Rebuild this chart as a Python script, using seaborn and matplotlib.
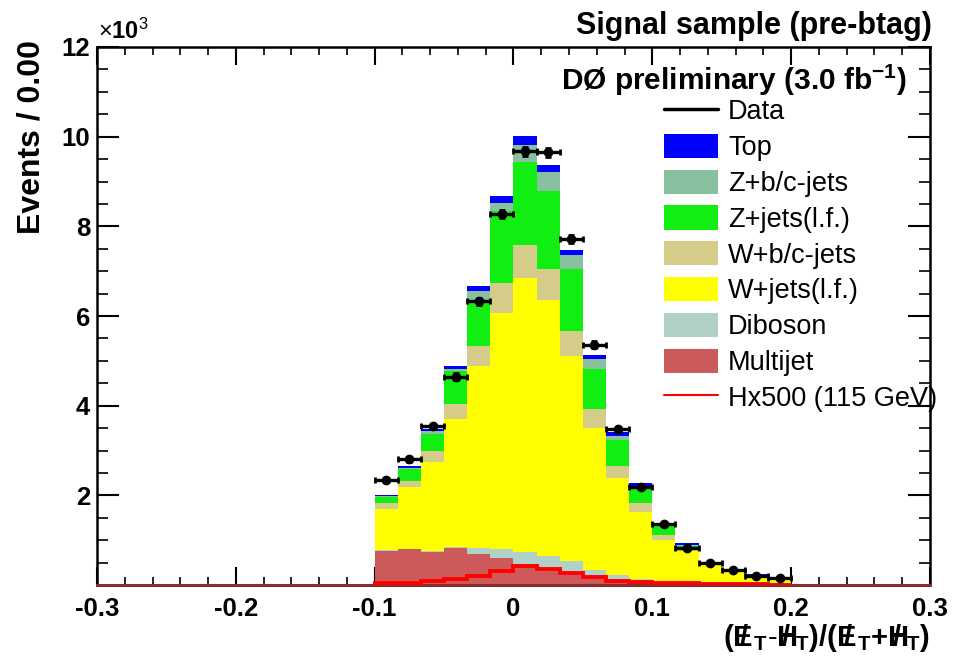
import numpy as np
import pandas as pd
import matplotlib
matplotlib.use("Agg")
import matplotlib.pyplot as plt
from matplotlib.patches import Patch
from matplotlib.lines import Line2D
from matplotlib.ticker import MultipleLocator
import seaborn as sns

# ---------------- data (units of 10^3 events per bin) ----------------
bin_edges = list(np.linspace(-0.1, 0.2, 19))  # 18 bins of width 1/60

multijet = [0.76, 0.80, 0.73, 0.82, 0.69, 0.60, 0.47, 0.38, 0.29, 0.19, 0.08, 0.05, 0.03, 0.02, 0.01, 0.01, 0.00, 0.00]
diboson  = [0.01, 0.01, 0.03, 0.03, 0.13, 0.20, 0.26, 0.26, 0.24, 0.15, 0.14, 0.08, 0.04, 0.02, 0.02, 0.01, 0.01, 0.01]
wjets_lf = [0.93, 1.37, 1.98, 2.85, 4.07, 5.27, 6.11, 5.72, 4.57, 3.16, 2.17, 1.49, 0.94, 0.71, 0.42, 0.28, 0.16, 0.11]
wbc_jets = [0.12, 0.15, 0.24, 0.34, 0.45, 0.66, 0.74, 0.68, 0.57, 0.43, 0.26, 0.20, 0.11, 0.03, 0.02, 0.01, 0.02, 0.01]
zjets_lf = [0.15, 0.25, 0.38, 0.74, 0.96, 1.62, 1.85, 1.74, 1.37, 0.88, 0.58, 0.33, 0.21, 0.10, 0.02, 0.01, 0.02, 0.01]
zbc_jets = [0.01, 0.04, 0.07, 0.04, 0.26, 0.17, 0.39, 0.43, 0.32, 0.23, 0.10, 0.05, 0.03, 0.02, 0.01, 0.01, 0.01, 0.00]
top      = [0.03, 0.03, 0.05, 0.07, 0.11, 0.15, 0.20, 0.16, 0.11, 0.08, 0.08, 0.08, 0.03, 0.03, 0.02, 0.02, 0.02, 0.01]
data     = [2.34, 2.80, 3.54, 4.65, 6.33, 8.27, 9.67, 9.65, 7.71, 5.36, 3.47, 2.19, 1.36, 0.82, 0.50, 0.34, 0.21, 0.16]
signal   = [0.04, 0.05, 0.10, 0.13, 0.21, 0.32, 0.43, 0.36, 0.27, 0.17, 0.10, 0.07, 0.05, 0.04, 0.03, 0.02, 0.02, 0.01]

processes = ["Top", "Z+b/c-jets", "Z+jets(l.f.)", "W+b/c-jets", "W+jets(l.f.)", "Diboson", "Multijet"]
proc_values = [top, zbc_jets, zjets_lf, wbc_jets, wjets_lf, diboson, multijet]
colors = {"Top": "#0000ff", "Z+b/c-jets": "#88c0a0", "Z+jets(l.f.)": "#11ee11",
          "W+b/c-jets": "#d4cc88", "W+jets(l.f.)": "#ffff00", "Diboson": "#b0d0c8",
          "Multijet": "#cc5a5a"}

x_ticks = [-0.3, -0.2, -0.1, 0, 0.1, 0.2, 0.3]
x_ticklabels = ["-0.3", "-0.2", "-0.1", "0", "0.1", "0.2", "0.3"]
y_ticks = [2, 4, 6, 8, 10, 12]
y_ticklabels = ["2", "4", "6", "8", "10", "12"]

# ---------------- style ----------------
sns.set_theme(style="ticks")
plt.rcParams["font.family"] = ["Liberation Sans", "DejaVu Sans"]
plt.rcParams["axes.unicode_minus"] = False
plt.rcParams["mathtext.fontset"] = "custom"
plt.rcParams["mathtext.rm"] = "Liberation Sans"
plt.rcParams["mathtext.bf"] = "Liberation Sans:bold"
plt.rcParams["mathtext.it"] = "Liberation Sans:italic"
for key in ["text.color", "axes.labelcolor", "xtick.color", "ytick.color", "axes.edgecolor"]:
    plt.rcParams[key] = "black"

fig = plt.figure(figsize=(9.54, 6.60), dpi=100)
ax = fig.add_axes([97 / 954, 1 - 585 / 660, (930 - 97) / 954, (585 - 47) / 660])

edges_arr = np.array(bin_edges)
centers = 0.5 * (edges_arr[:-1] + edges_arr[1:])
width = edges_arr[1] - edges_arr[0]
rows = []
for name, vals in zip(processes, proc_values):
    for c, v in zip(centers, vals):
        rows.append({"x": float(c), "w": float(v), "process": name})
df = pd.DataFrame(rows)

sns.histplot(data=df, x="x", weights="w", hue="process", hue_order=processes,
             multiple="stack", bins=bin_edges, element="step", fill=True,
             alpha=1.0, linewidth=0, palette=colors, legend=False, ax=ax)

# signal (Hx500)
ax.stairs(signal, edges_arr, color="#ff0000", linewidth=2.8, zorder=4)

# data points
data_arr = np.array(data)
yerr = np.sqrt(data_arr * 1000.0) / 1000.0
ax.errorbar(centers, data_arr, xerr=width / 2, yerr=yerr, fmt="o", color="black",
            markersize=6, elinewidth=2.4, capsize=2.5, capthick=2, zorder=5)

ax.set_xlim(-0.3, 0.3)
ax.set_ylim(0, 12)
ax.set_xticks(x_ticks)
ax.set_xticklabels(x_ticklabels)
ax.set_yticks(y_ticks)
ax.set_yticklabels(y_ticklabels)
ax.xaxis.set_minor_locator(MultipleLocator(0.02))
ax.yaxis.set_minor_locator(MultipleLocator(0.5))
ax.set_xlabel("")
ax.set_ylabel("")
ax.tick_params(axis="both", which="both", direction="in", top=True, right=True, colors="black")
ax.tick_params(axis="x", which="major", length=13, width=1.5, pad=9, labelsize=18.5)
ax.tick_params(axis="x", which="minor", length=6, width=1.2)
ax.tick_params(axis="y", which="major", length=16, width=1.5, pad=5, labelsize=18.5)
ax.tick_params(axis="y", which="minor", length=8, width=1.2)
for lab in ax.get_xticklabels() + ax.get_yticklabels():
    lab.set_fontweight("bold")
for side in ["left", "top", "right"]:
    ax.spines[side].set_color("black")
    ax.spines[side].set_linewidth(1.8)
ax.spines["bottom"].set_color("#8b2a2a")
ax.spines["bottom"].set_linewidth(2.2)
ax.grid(False)

# texts
fig.text(98 / 954, 1 - 44 / 660, r"$\times\mathbf{10}^{3}$", ha="left", va="bottom", fontsize=17)
fig.text(32 / 954, 1 - 40 / 660, "Events / 0.00", rotation=90, ha="center", va="top",
         fontsize=23, fontweight="bold")
fig.text(932 / 954, 1 - 11 / 660, "Signal sample (pre-btag)", ha="right", va="top",
         fontsize=22, fontweight="bold")
fig.text(907 / 954, 1 - 80 / 660, r"DØ preliminary (3.0 fb$^{\mathbf{-1}}$)", ha="right",
         va="center", fontsize=21.5, fontweight="bold")
fig.text(930 / 954, 1 - 638 / 660,
         r"$\mathbf{({E\!\!\!/\:}_{T}{\text{-}}{H\!\!\!\!/\:}_{T})/({E\!\!\!/\:}_{T}{+}{H\!\!\!\!/\:}_{T})}$",
         ha="right", va="center", fontsize=21)

# legend
handles = [Line2D([], [], color="black", linewidth=2.5)]
handles += [Patch(facecolor=colors[p], edgecolor="none") for p in processes]
handles += [Line2D([], [], color="#ff0000", linewidth=1.5)]
labels = ["Data"] + processes + ["Hx500 (115 GeV)"]
fig.legend(handles, labels, loc="upper left", bbox_to_anchor=(664 / 954, 1 - 98 / 660),
           bbox_transform=fig.transFigure, frameon=False, fontsize=19.5,
           handlelength=2.0, handleheight=1.0, handletextpad=0.36,
           labelspacing=0.31, borderpad=0, borderaxespad=0)

fig.savefig("out.png", dpi=100)
